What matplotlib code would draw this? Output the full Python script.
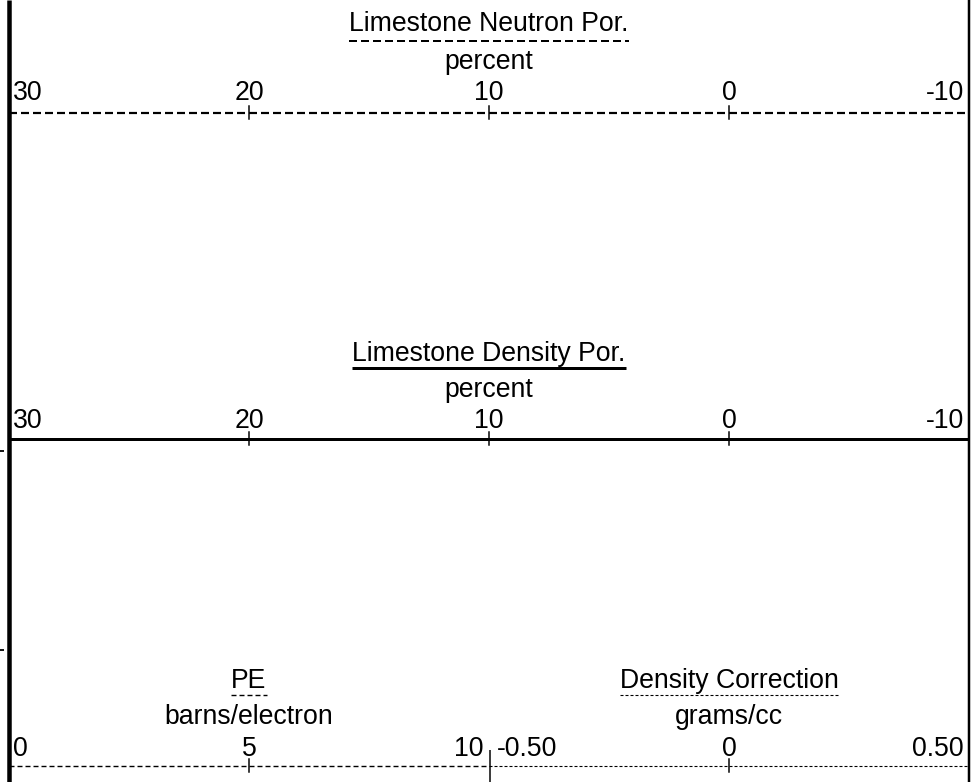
import matplotlib
matplotlib.use("Agg")
import matplotlib.pyplot as plt
from matplotlib.transforms import offset_copy

plt.rcParams['font.family'] = ['Liberation Sans', 'DejaVu Sans']
plt.rcParams['lines.scale_dashes'] = False

# ---- data ----
neutron_title = "Limestone Neutron Por."
neutron_unit = "percent"
neutron_range = (30, -10)
neutron_ticks = [30, 20, 10, 0, -10]
neutron_labels = ["30", "20", "10", "0", "-10"]

density_title = "Limestone Density Por."
density_unit = "percent"
density_range = (30, -10)
density_ticks = [30, 20, 10, 0, -10]
density_labels = ["30", "20", "10", "0", "-10"]

pe_title = "PE"
pe_unit = "barns/electron"
pe_range = (0, 10)
pe_ticks = [0, 5, 10]
pe_labels = ["0", "5", "10"]

dc_title = "Density Correction"
dc_unit = "grams/cc"
dc_range = (-0.50, 0.50)
dc_ticks = [-0.50, 0, 0.50]
dc_labels = ["-0.50", "0", "0.50"]

# ---- figure ----
W, H = 971, 782
DPI = 100
fig = plt.figure(figsize=(W / DPI, H / DPI), dpi=DPI)
PT = 72.0 / DPI  # points per pixel
FS = 19.2

base = fig.add_axes([0, 0, 1, 1])
base.set_xlim(0, W)
base.set_ylim(H, 0)
base.axis('off')


def make_axes(x0, x1, rng):
    ax = fig.add_axes([x0 / W, 0, (x1 - x0) / W, 1])
    ax.set_xlim(*rng)
    ax.set_ylim(H, 0)
    ax.axis('off')
    ax.patch.set_alpha(0)
    return ax


dash_n = (0, (8 * PT, 4 * PT))
dash_pe = (0, (5 * PT, 3 * PT))
dot_dc = (0, (3 * PT, 2 * PT))

tracks = [
    dict(x0=9, x1=969, rng=neutron_range, ticks=neutron_ticks, labels=neutron_labels,
         title=neutron_title, unit=neutron_unit, ys=(31, 41, 69, 100, 113),
         ls=dash_n, lw=2.2, ulw=2.0, dx=(4, -5)),
    dict(x0=9, x1=969, rng=density_range, ticks=density_ticks, labels=density_labels,
         title=density_title, unit=density_unit, ys=(361, 368, 397, 428, 439),
         ls='-', lw=3.0, ulw=3.0, dx=(4, -5)),
    dict(x0=9, x1=489, rng=pe_range, ticks=pe_ticks, labels=pe_labels,
         title=pe_title, unit=pe_unit, ys=(688, 695, 724, 756, 766),
         ls=dash_pe, lw=1.4, ulw=1.4, dx=(4, -6)),
    dict(x0=489, x1=969, rng=dc_range, ticks=dc_ticks, labels=dc_labels,
         title=dc_title, unit=dc_unit, ys=(688, 695, 724, 756, 766),
         ls=dot_dc, lw=1.1, ulw=1.1, dx=(8, -5)),
]

title_texts = []
for t in tracks:
    ax = make_axes(t['x0'], t['x1'], t['rng'])
    y_title, y_ul, y_unit, y_lab, y_line = t['ys']
    lo, hi = t['rng']
    mid = (lo + hi) / 2.0
    # scale line
    ax.plot([lo, hi], [y_line, y_line], color='black', lw=t['lw'] * PT,
            linestyle=t['ls'], solid_capstyle='butt', dash_capstyle='butt')
    # ticks
    for v in t['ticks'][1:-1]:
        ax.plot([v, v], [y_line - 7, y_line + 6], color='black', lw=1.5 * PT)
    # tick labels
    n = len(t['ticks'])
    for i, (v, lab) in enumerate(zip(t['ticks'], t['labels'])):
        if i == 0:
            ha, dx = 'left', t['dx'][0]
        elif i == n - 1:
            ha, dx = 'right', t['dx'][1]
        else:
            ha, dx = 'center', 0
        tr = offset_copy(ax.transData, fig=fig, x=dx, y=0, units='dots')
        ax.text(v, y_lab, lab, ha=ha, va='baseline', fontsize=FS, transform=tr)
    # title and unit
    tt = ax.text(mid, y_title, t['title'], ha='center', va='baseline', fontsize=FS)
    ax.text(mid, y_unit, t['unit'], ha='center', va='baseline', fontsize=FS)
    title_texts.append((tt, y_ul, t['ls'], t['ulw']))

# underlines matching title widths
fig.canvas.draw()
renderer = fig.canvas.get_renderer()
for tt, y_ul, ls, ulw in title_texts:
    bb = tt.get_window_extent(renderer)
    base.plot([bb.x0, bb.x1], [y_ul, y_ul], color='black', lw=ulw * PT,
              linestyle=ls, solid_capstyle='butt', dash_capstyle='butt')

# track borders
base.plot([9, 9], [0, H], color='black', lw=4.5 * PT, solid_capstyle='butt')
base.plot([968.5, 968.5], [0, H], color='black', lw=2.5 * PT, solid_capstyle='butt')
# split divider in the bottom scale
base.plot([489.5, 489.5], [750, H], color='black', lw=1.5 * PT, solid_capstyle='butt')
# depth marks from neighbouring track
for yy in (451, 650):
    base.plot([0, 3.5], [yy, yy], color='black', lw=1.8 * PT, solid_capstyle='butt')

fig.savefig("out.png", dpi=DPI)
